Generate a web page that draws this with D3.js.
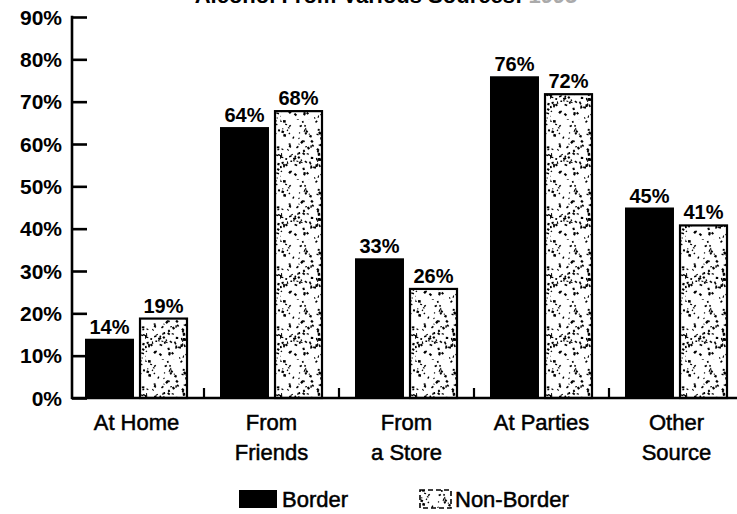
<!DOCTYPE html>
<html>
<head>
<meta charset="utf-8">
<script src="https://cdn.jsdelivr.net/npm/d3@7"></script>
<style>
  body { margin: 0; background: #fff; }
  svg text { font-family: "Liberation Sans", Arial, Helvetica, sans-serif; fill: #000; }
</style>
</head>
<body>
<svg id="chart" width="737" height="514"></svg>
<script>
(function(){
    var categories = [['At Home'], ['From', 'Friends'], ['From', 'a Store'], ['At Parties'], ['Other', 'Source']];
    var series = ['Border', 'Non-Border'];
    var border = [14, 64, 33, 76, 45];
    var nonBorder = [19, 68, 26, 72, 41];
    var yTicks = [0, 10, 20, 30, 40, 50, 60, 70, 80, 90];

    var svg = d3.select('#chart');
    var axisX = 72, baseY = 398, topY = 17;

    // stipple texture for the non-border bars (fixed seed so it's the same each run)
    var seed = 7;
    function rnd(){ seed = (seed * 16807) % 2147483647; return (seed - 1) / 2147483646; }
    var defs = svg.append('defs');
    var pat = defs.append('pattern')
        .attr('id', 'stipple')
        .attr('patternUnits', 'userSpaceOnUse')
        .attr('width', 60).attr('height', 60);
    pat.append('rect').attr('width', 60).attr('height', 60).attr('fill', '#fff');
    for (var i = 0; i < 170; i++) {
        var px = rnd() * 60, py = rnd() * 60;
        pat.append('rect')
            .attr('x', px).attr('y', py)
            .attr('width', 1 + rnd() * 2)
            .attr('height', 1 + rnd() * 1.6)
            .attr('transform', 'rotate(' + (rnd() * 90) + ',' + px + ',' + py + ')')
            .attr('fill', '#000');
    }

    var names = categories.map(function(c){ return c.join(' '); });

    var x0 = d3.scaleBand()
        .domain(names)
        .range([axisX, 741])
        .paddingInner(0.237)
        .paddingOuter(0.0963);

    var x1 = d3.scaleBand()
        .domain(series)
        .range([0, x0.bandwidth()])
        .paddingInner(0.093);

    var y = d3.scaleLinear().domain([0, 90]).range([baseY, topY]);

    // title, mostly cut off by the top edge
    var title = svg.append('text')
        .attr('x', 386).attr('y', 3)
        .attr('text-anchor', 'middle')
        .style('font-size', '22px').style('font-weight', 'bold');
    title.append('tspan').text('Alcohol From Various Sources: ');
    title.append('tspan').style('fill', '#aaa').text('1995');

    // y axis
    var yAxis = d3.axisRight(y)
        .tickValues(yTicks)
        .tickSize(15)
        .tickFormat('');
    var ga = svg.append('g')
        .attr('transform', 'translate(' + axisX + ',0)')
        .call(yAxis);
    ga.select('.domain').remove();
    ga.selectAll('.tick line').attr('stroke', '#000').attr('stroke-width', 2.6);
    ga.append('line')
        .attr('x1', 0).attr('x2', 0)
        .attr('y1', y(90) - 1.3).attr('y2', baseY + 1)
        .attr('stroke', '#000').attr('stroke-width', 2.6);

    svg.append('g').selectAll('text')
        .data(yTicks)
        .join('text')
        .attr('x', 62).attr('y', function(d){ return y(d) + 7.5; })
        .attr('text-anchor', 'end')
        .style('font-size', '21px').style('font-weight', 'bold')
        .text(function(d){ return d + '%'; });

    // bars
    var rows = names.map(function(n, i){
        return [{ s: 'Border', v: border[i] }, { s: 'Non-Border', v: nonBorder[i] }];
    });

    var groups = svg.append('g').selectAll('g')
        .data(rows)
        .join('g')
        .attr('transform', function(d, i){ return 'translate(' + x0(names[i]) + ',0)'; });

    groups.selectAll('rect')
        .data(function(d){ return d; })
        .join('rect')
        .attr('x', function(d){ return x1(d.s) + (d.s === 'Border' ? 0 : 1); })
        .attr('y', function(d){ return y(d.v) + (d.s === 'Border' ? 0 : 1); })
        .attr('width', function(d){ return x1.bandwidth() - (d.s === 'Border' ? 0 : 2); })
        .attr('height', function(d){ return baseY - y(d.v) - (d.s === 'Border' ? 0 : 1); })
        .attr('fill', function(d){ return d.s === 'Border' ? '#000' : 'url(#stipple)'; })
        .attr('stroke', function(d){ return d.s === 'Border' ? 'none' : '#000'; })
        .attr('stroke-width', 2.2);

    groups.selectAll('text')
        .data(function(d){ return d; })
        .join('text')
        .attr('x', function(d){ return x1(d.s) + x1.bandwidth() / 2; })
        .attr('y', function(d){ return y(d.v) - 5; })
        .attr('text-anchor', 'middle')
        .style('font-size', '20px').style('font-weight', 'bold')
        .text(function(d){ return d.v + '%'; });

    // baseline and small separator ticks between groups
    svg.append('line')
        .attr('x1', axisX - 1).attr('x2', 737)
        .attr('y1', baseY).attr('y2', baseY)
        .attr('stroke', '#000').attr('stroke-width', 2.6);

    var gap = x0.step() - x0.bandwidth();
    svg.append('g').selectAll('line')
        .data(names.slice(0, -1))
        .join('line')
        .attr('x1', function(d){ return x0(d) + x0.bandwidth() + gap / 2; })
        .attr('x2', function(d){ return x0(d) + x0.bandwidth() + gap / 2; })
        .attr('y1', baseY).attr('y2', baseY - 10)
        .attr('stroke', '#000').attr('stroke-width', 2.2);

    // category labels
    svg.append('g').selectAll('text')
        .data(categories)
        .join('text')
        .attr('x', function(d, i){ return x0(names[i]) + x0.bandwidth() / 2; })
        .attr('y', 430)
        .attr('text-anchor', 'middle')
        .style('font-size', '22px')
        .style('stroke', '#000').style('stroke-width', 0.5)
        .each(function(d){
            var t = d3.select(this);
            d.forEach(function(line, k){
                t.append('tspan')
                    .attr('x', t.attr('x'))
                    .attr('dy', k === 0 ? 0 : 30)
                    .text(line);
            });
        });

    // legend
    var legend = [
        { s: 'Border', x: 239, w: 38 },
        { s: 'Non-Border', x: 419, w: 31 }
    ];
    var lg = svg.append('g').selectAll('g')
        .data(legend)
        .join('g')
        .attr('transform', function(d){ return 'translate(' + d.x + ',489)'; });
    lg.append('rect')
        .attr('x', function(d){ return d.s === 'Border' ? 0 : 1; })
        .attr('y', 1)
        .attr('width', function(d){ return d.w; })
        .attr('height', 18)
        .attr('fill', function(d){ return d.s === 'Border' ? '#000' : 'url(#stipple)'; })
        .attr('stroke', function(d){ return d.s === 'Border' ? 'none' : '#000'; })
        .attr('stroke-width', 1.6)
        .attr('stroke-dasharray', function(d){ return d.s === 'Border' ? null : '5,3'; });
    lg.append('text')
        .attr('x', function(d){ return d.w + 5; })
        .attr('y', 18)
        .style('font-size', '22px')
        .style('stroke', '#000').style('stroke-width', 0.5)
        .text(function(d){ return d.s; });
})();
</script>
</body>
</html>
